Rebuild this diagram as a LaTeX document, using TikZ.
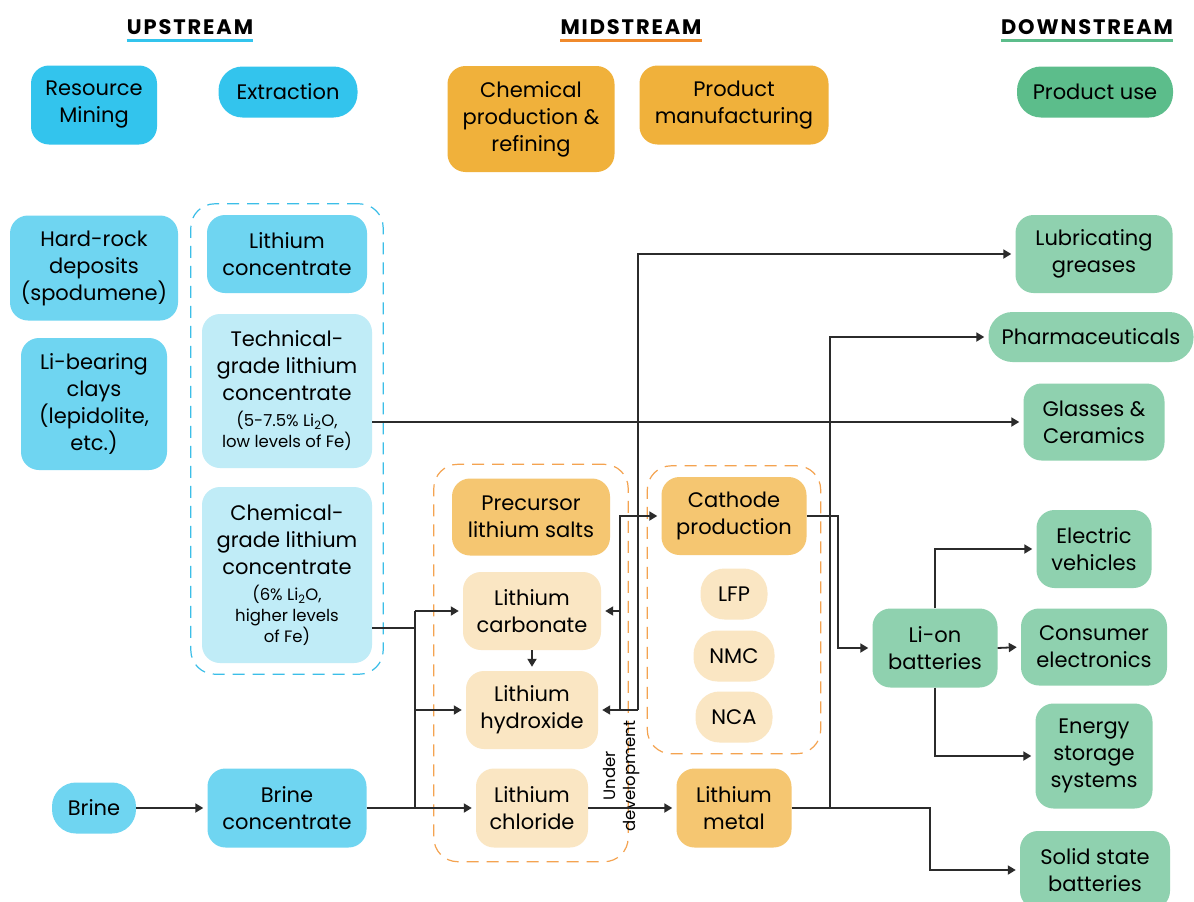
\documentclass[tikz,border=0pt]{standalone}
\usepackage{fontspec}
\setmainfont{Poppins}
\newfontfamily\headfont[LetterSpace=9]{Poppins}
\usetikzlibrary{positioning, arrows.meta, fit}

\definecolor{upcyan}{HTML}{33C4ED}
\definecolor{midcyan}{HTML}{6FD5F1}
\definecolor{palecyan}{HTML}{C0ECF7}
\definecolor{uporange}{HTML}{F0B13B}
\definecolor{midorange}{HTML}{F5C671}
\definecolor{paleorange}{HTML}{FAE6C3}
\definecolor{upgreen}{HTML}{5CBD8B}
\definecolor{midgreen}{HTML}{8FD1AF}
\definecolor{linegray}{HTML}{2B2B2B}
\definecolor{dashcyan}{HTML}{3BBEE8}
\definecolor{dashorange}{HTML}{F4A350}
\definecolor{ulorange}{HTML}{F08A2C}

\newcommand{\boxfs}{\fontsize{21}{27}\selectfont}
\newcommand{\notefs}{\fontsize{16.5}{21}\selectfont}

\tikzset{
    box/.style={rounded corners=18pt, align=center, inner sep=0pt, font=\boxfs},
    pill/.style={box, rounded corners=24pt},
    arr/.style={-{Triangle[length=8pt,width=9pt]}, shorten >=4pt},
    link/.style={draw=linegray, line width=1.8pt},
    group/.style={draw, dash pattern=on 12pt off 8pt, line width=1.2pt, rounded corners=24pt},
    head/.style={font=\headfont\fontsize{21}{23}\selectfont\bfseries, inner sep=0pt}
}

\begin{document}
\begin{tikzpicture}[x=1pt, y=-1pt]
    \useasboundingbox (0,0) rectangle (1194,902);
    \fill[white] (0,0) rectangle (1194,902);

    %% headers
    \node[head] (upstream) at (190,27) {UPSTREAM};
    \node[head] (midstream) at (631,27) {MIDSTREAM};
    \node[head] (downstream) at (1087,27) {DOWNSTREAM};
    \draw[upcyan, line width=3pt] ([yshift=-6pt]upstream.south west) -- ([yshift=-6pt]upstream.south east);
    \draw[ulorange, line width=3pt] ([yshift=-6pt]midstream.south west) -- ([yshift=-6pt]midstream.south east);
    \draw[upgreen, line width=3pt] ([yshift=-6pt]downstream.south west) -- ([yshift=-6pt]downstream.south east);

    \node[box, fill=upcyan, minimum width=126, minimum height=79] (mining) at (94,105) {Resource\\Mining};
    \node[pill, fill=upcyan, minimum width=139, minimum height=51] (extraction) at (288,92) {Extraction};
    \node[box, fill=uporange, minimum width=167, minimum height=106] (chemprod) at (531,119) {Chemical\\production \&\\refining};
    \node[box, fill=uporange, minimum width=189, minimum height=79] (manufacturing) at (734,105) {Product\\manufacturing};
    \node[pill, fill=upgreen, minimum width=156, minimum height=51] (productuse) at (1095,92) {Product use};

    %% upstream
    \node[box, fill=midcyan, minimum width=168, minimum height=105] (hardrock) at (94,268) {Hard-rock\\deposits\\(spodumene)};
    \node[box, fill=midcyan, minimum width=146, minimum height=132] (clays) at (94,404) {Li-bearing\\clays\\(lepidolite,\\etc.)};
    \node[box, fill=midcyan, minimum width=160, minimum height=78] (liconc) at (287,254) {Lithium\\concentrate};
    \node[box, fill=palecyan, minimum width=170, minimum height=154] (techgrade) at (287,391)
        {Technical-\\grade lithium\\concentrate\\[-1pt]{\notefs(5-7.5\% Li\textsubscript{2}O,}\\[-6pt]{\notefs low levels of Fe)}};
    \node[box, fill=palecyan, minimum width=170, minimum height=176] (chemgrade) at (287,575)
        {Chemical-\\grade lithium\\concentrate\\[-1pt]{\notefs(6\% Li\textsubscript{2}O,}\\[-6pt]{\notefs higher levels}\\[-6pt]{\notefs of Fe)}};
    \node[pill, fill=midcyan, minimum width=84, minimum height=51] (brine) at (94,808) {Brine};
    \node[box, fill=midcyan, minimum width=159, minimum height=79] (brinecon) at (287,808) {Brine\\concentrate};
    \node[group, dashcyan, fit=(liconc)(techgrade)(chemgrade), inner xsep=11pt, inner ysep=11pt] (cyangroup) {};

    %% midstream
    \node[box, fill=midorange, minimum width=158, minimum height=77] (precursor) at (531,517) {Precursor\\lithium salts};
    \node[box, fill=paleorange, minimum width=138, minimum height=78] (carbonate) at (532,611) {Lithium\\carbonate};
    \node[box, fill=paleorange, minimum width=132, minimum height=78] (hydroxide) at (532,710) {Lithium\\hydroxide};
    \node[box, fill=paleorange, minimum width=112, minimum height=79] (chloride) at (532,808) {Lithium\\chloride};
    \node[box, fill=midorange, minimum width=145, minimum height=78] (cathode) at (734,516) {Cathode\\production};
    \node[pill, fill=paleorange, minimum width=67, minimum height=51] (lfp) at (734,594) {LFP};
    \node[pill, fill=paleorange, minimum width=81, minimum height=51] (nmc) at (734,656) {NMC};
    \node[pill, fill=paleorange, minimum width=77, minimum height=51] (nca) at (734,717) {NCA};
    \node[box, fill=midorange, minimum width=115, minimum height=79] (metal) at (734,808) {Lithium\\metal};
    \node[group, dashorange, fit=(precursor)(chloride), inner xsep=18pt, inner ysep=14pt] (saltgroup) {};
    \node[group, dashorange, fit=(cathode)(nca), inner xsep=14pt, inner ysep=11pt] (cathgroup) {};
    \node[rotate=90, align=center, font=\fontsize{16.5}{20}\selectfont, inner sep=0pt] (underdev) at (622,776) {Under\\development};

    %% downstream
    \node[box, fill=midgreen, minimum width=157, minimum height=78] (lubricating) at (1094,254) {Lubricating\\greases};
    \node[pill, fill=midgreen, minimum width=205, minimum height=50] (pharma) at (1091,337) {Pharmaceuticals};
    \node[box, fill=midgreen, minimum width=141, minimum height=77] (glasses) at (1094,422) {Glasses \&\\Ceramics};
    \node[box, fill=midgreen, minimum width=115, minimum height=78] (ev) at (1094,549) {Electric\\vehicles};
    \node[box, fill=midgreen, minimum width=125, minimum height=79] (lion) at (935,648) {Li-on\\batteries};
    \node[box, fill=midgreen, minimum width=146, minimum height=77] (consumer) at (1094,647) {Consumer\\electronics};
    \node[box, fill=midgreen, minimum width=117, minimum height=105] (ess) at (1094,756) {Energy\\storage\\systems};
    \node[box, fill=midgreen, minimum width=150, minimum height=78] (solid) at (1095,870) {Solid state\\batteries};

    %% connectors
    \coordinate (spine) at (415,0);
    \coordinate (chemout) at (415,628);
    \coordinate (feedL) at (620,0);
    \coordinate (feedR) at (638,0);
    \coordinate (pharx) at (830,0);
    \coordinate (cathx) at (838,0);
    \coordinate (ssx) at (930,0);

    \draw[link, arr] (brine.east) -- (brinecon.west);
    \draw[link, arr] (brinecon.east) -- (chloride.west);
    \draw[link] (chemgrade.east |- chemout) -- (chemout);
    \draw[link] (spine |- carbonate) -- (spine |- chloride);
    \draw[link, arr] (spine |- carbonate) -- (carbonate.west);
    \draw[link, arr] (spine |- hydroxide) -- (hydroxide.west);
    \draw[link, arr] (carbonate.south) -- (hydroxide.north);
    \draw[link, arr] (techgrade.east |- glasses) -- (glasses.west);

    \draw[link, arr] (feedL |- hydroxide) -- (feedL |- cathode) -- (cathode.west);
    \draw[link, arr] (feedL |- carbonate) -- (carbonate.east);
    \draw[link, arr] (feedR |- hydroxide) -- (hydroxide.east);
    \draw[link, arr] (feedR |- hydroxide) -- (feedR |- lubricating) -- (lubricating.west);

    \draw[link, arr] (chloride.east) -- (metal.west);
    \draw[link, arr] (metal.east) -- (ssx |- metal) -- (ssx |- solid) -- (solid.west);
    \draw[link, arr] (pharx |- metal) -- (pharx |- pharma) -- (pharma.west);
    \draw[link, arr] (cathode.east) -- (cathx |- cathode) -- (cathx |- lion) -- (lion.west);

    \draw[link, arr] (lion.north) -- (lion.north |- ev) -- (ev.west);
    \draw[link, arr] (lion.east) -- (consumer.west);
    \draw[link, arr] (lion.south) -- (lion.south |- ess) -- (ess.west);
\end{tikzpicture}
\end{document}
